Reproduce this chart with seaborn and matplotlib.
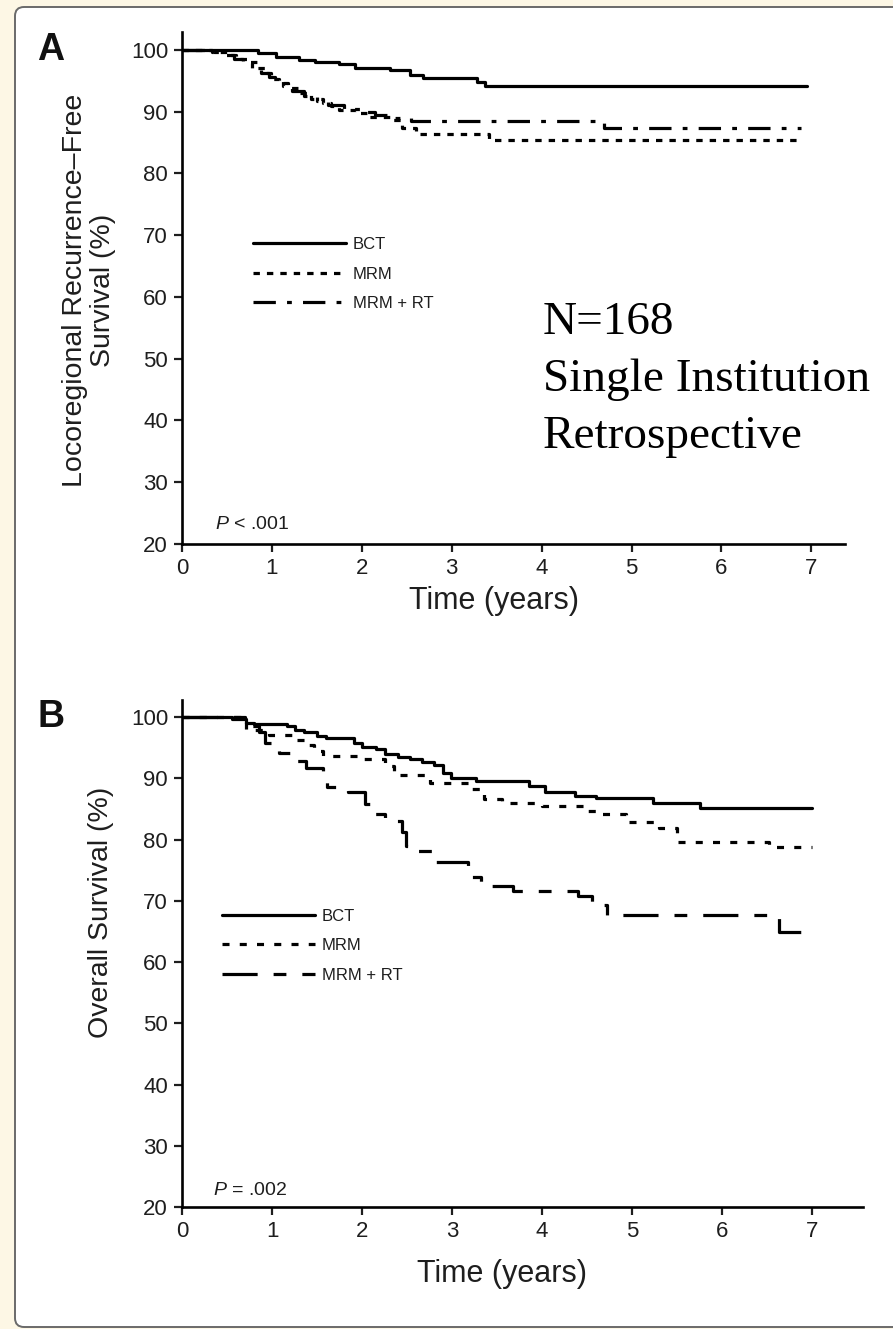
import matplotlib
matplotlib.use("Agg")
import matplotlib.pyplot as plt
from matplotlib.patches import FancyBboxPatch
from matplotlib.transforms import IdentityTransform
from matplotlib.lines import Line2D
import seaborn as sns
import pandas as pd

# ---------------- data ----------------
groups = ["BCT", "MRM", "MRM + RT"]

A_BCT_t = [0, 0.85, 1.05, 1.3, 1.48, 1.75, 1.92, 2.31, 2.54, 2.68, 3.28, 3.37, 6.95]
A_BCT_s = [100, 99.5, 98.9, 98.4, 98.1, 97.7, 97.1, 96.7, 95.9, 95.4, 94.8, 94.2, 94.2]
A_MRM_t = [0, 0.33, 0.5, 0.6, 0.72, 0.83, 0.92, 0.99, 1.08, 1.18, 1.3, 1.43, 1.57,
           1.66, 1.75, 1.94, 2.08, 2.31, 2.45, 2.6, 3.42, 6.88]
A_MRM_s = [100, 99.6, 99.2, 98.6, 98.1, 97.0, 96.2, 95.3, 94.6, 93.9, 93.1, 92.0, 91.4,
           90.9, 90.3, 89.8, 89.1, 88.6, 87.3, 86.4, 85.4, 85.4]
A_RT_t = [0, 0.36, 0.46, 0.58, 0.68, 0.78, 0.88, 0.97, 1.04, 1.12, 1.22, 1.36, 1.5,
          1.62, 1.8, 1.98, 2.15, 2.35, 2.55, 4.69, 6.88]
A_RT_s = [100, 99.6, 99.1, 98.5, 97.8, 97.1, 96.3, 95.6, 94.9, 94.2, 93.4, 92.5, 91.8,
          91.1, 90.4, 89.9, 89.4, 88.9, 88.5, 87.4, 87.4]

B_BCT_t = [0, 0.55, 0.71, 0.8, 1.17, 1.25, 1.36, 1.5, 1.6, 1.91, 2.0, 2.16, 2.26, 2.4,
           2.53, 2.67, 2.8, 2.9, 2.99, 3.27, 3.85, 4.03, 4.37, 4.6, 5.23, 5.76, 7.0]
B_BCT_s = [100, 99.6, 99.1, 98.9, 98.5, 97.9, 97.5, 96.9, 96.6, 95.8, 95.1, 94.7, 93.9,
           93.4, 93.1, 92.6, 92.1, 90.9, 90.1, 89.6, 88.8, 87.7, 87.1, 86.7, 85.9, 85.2, 85.2]
B_MRM_t = [0, 0.71, 0.97, 1.24, 1.38, 1.47, 1.57, 1.98, 2.26, 2.35, 2.76, 3.22, 3.36,
           3.55, 4.0, 4.47, 4.6, 4.93, 5.3, 5.5, 6.52, 7.0]
B_MRM_s = [100, 97.9, 97.1, 96.3, 95.5, 94.4, 93.6, 93.1, 92.0, 90.6, 89.2, 88.2, 86.6,
           85.9, 85.5, 84.6, 84.1, 82.9, 81.8, 79.6, 78.8, 78.8]
B_RT_t = [0, 0.7, 0.85, 0.92, 1.08, 1.22, 1.38, 1.57, 1.61, 1.84, 2.03, 2.12, 2.26, 2.44,
          2.49, 2.62, 2.81, 3.18, 3.32, 3.68, 4.4, 4.56, 4.72, 6.63, 7.0]
B_RT_s = [100, 98.5, 97.6, 95.8, 94.2, 92.8, 91.6, 89.8, 88.5, 87.7, 85.8, 84.2, 83.1,
          81.2, 79.0, 78.2, 76.3, 73.9, 72.4, 71.6, 70.8, 69.3, 67.6, 64.9, 64.9]

y_ticks = [20, 30, 40, 50, 60, 70, 80, 90, 100]
x_ticks = [0, 1, 2, 3, 4, 5, 6, 7]
ylabel_A = "Locoregional Recurrence\u2013Free\nSurvival (%)"
ylabel_B = "Overall Survival (%)"
xlabel = "Time (years)"
p_A = "$P$ < .001"
p_B = "$P$ = .002"
note_lines = ["N=168", "Single Institution", "Retrospective"]

# ---------------- style ----------------
sns.set_style("ticks")
plt.rcParams["font.family"] = ["Liberation Sans", "DejaVu Sans"]
plt.rcParams["mathtext.fontset"] = "custom"
plt.rcParams["mathtext.it"] = "Liberation Sans:italic"
plt.rcParams["mathtext.rm"] = "Liberation Sans"

W, H = 893, 1329
fig = plt.figure(figsize=(W / 100, H / 100), dpi=100)
fig.patch.set_facecolor("#FDF7E5")
box = FancyBboxPatch((15, 2), 900, 1320, boxstyle="round,pad=0,rounding_size=9",
                     transform=IdentityTransform(), fc="white", ec="#6a6a6a", lw=1.4,
                     zorder=-5)
fig.patches.append(box)

LW = 2.3
INK = "#1e1e1e"
dashA = {"BCT": "", "MRM": (2.0, 2.2), "MRM + RT": (7, 3.5, 1.5, 3.5)}
dashB = {"BCT": "", "MRM": (2.2, 3.2), "MRM + RT": (11, 5, 4, 5)}


def frame(ts, ss):
    rows = []
    for g, t, s in zip(groups, ts, ss):
        for a, b in zip(t, s):
            rows.append((g, a, b))
    return pd.DataFrame(rows, columns=["group", "t", "s"])


def panel(rect, ylim_top, xmax, df, dashes, ylabel, ysize, ylab_xy, xlabel_y, pt, pxy,
          leg_anchor):
    ax = fig.add_axes(rect)
    ax.set_facecolor("none")
    sns.lineplot(data=df, x="t", y="s", style="group", style_order=groups,
                 dashes=dashes, color="black", lw=LW, drawstyle="steps-post",
                 estimator=None, sort=False, legend=False, ax=ax)
    ax.set_xlim(0, xmax)
    ax.set_ylim(20, ylim_top)
    ax.set_xticks(x_ticks)
    ax.set_yticks(y_ticks)
    sns.despine(ax=ax)
    for sp in ("left", "bottom"):
        ax.spines[sp].set_linewidth(1.9)
        ax.spines[sp].set_color("black")
    ax.tick_params(direction="out", length=5.5, width=1.6, labelsize=16, pad=4.5,
                   colors=INK)
    ax.set_xlabel(xlabel, fontsize=22, color=INK)
    ax.xaxis.set_label_coords(0.47, xlabel_y)
    ax.set_ylabel(ylabel, fontsize=ysize, color=INK, linespacing=1.08)
    ax.yaxis.set_label_coords(*ylab_xy)
    ax.text(pxy[0], pxy[1], pt, fontsize=14, color=INK)
    handles = [Line2D([], [], color="black", lw=LW,
                      dashes=(dashes[g] if dashes[g] else (None, None)))
               for g in groups]
    handles[0].set_linestyle("-")
    leg = ax.legend(handles, groups, loc="upper left", bbox_to_anchor=leg_anchor,
                    frameon=False, fontsize=12, handlelength=5.6, handletextpad=0.4,
                    labelspacing=0.87, borderaxespad=0)
    for t in leg.get_texts():
        t.set_color(INK)
    return ax


dfA = frame([A_BCT_t, A_MRM_t, A_RT_t], [A_BCT_s, A_MRM_s, A_RT_s])
dfB = frame([B_BCT_t, B_MRM_t, B_RT_t], [B_BCT_s, B_MRM_s, B_RT_s])

# panel A: x0 px 182, right 845, y20 at 544, top 32
axA = panel([182 / W, 1 - 544 / H, (845 - 182) / W, (544 - 32) / H], 102.9,
            (845 - 182) / 89.9, dfA, dashA, ylabel_A, 20.5, (-0.1, 0.495), -0.083,
            p_A, (0.37, 22.4), (0.0964, 0.6126))
# panel B: y20 at 1207, top 700, right 863
axB = panel([182 / W, 1 - 1207 / H, (863 - 182) / W, (1207 - 700) / H], 102.78,
            (863 - 182) / 90.0, dfB, dashB, ylabel_B, 20.5, (-0.1, 0.582), -0.102,
            p_B, (0.34, 22.0), (0.0487, 0.6017))

fig.text(37 / W, 1 - 60 / H, "A", fontsize=27, fontweight="bold", color="#111111")
fig.text(37 / W, 1 - 727 / H, "B", fontsize=27, fontweight="bold", color="#111111")

for i, line in enumerate(note_lines):
    fig.text(543 / W, 1 - (334 + 57 * i) / H, line, fontsize=34,
             family=["Liberation Serif", "DejaVu Serif"], va="baseline", color="black")

fig.savefig("out.png", dpi=100, facecolor=fig.get_facecolor())
